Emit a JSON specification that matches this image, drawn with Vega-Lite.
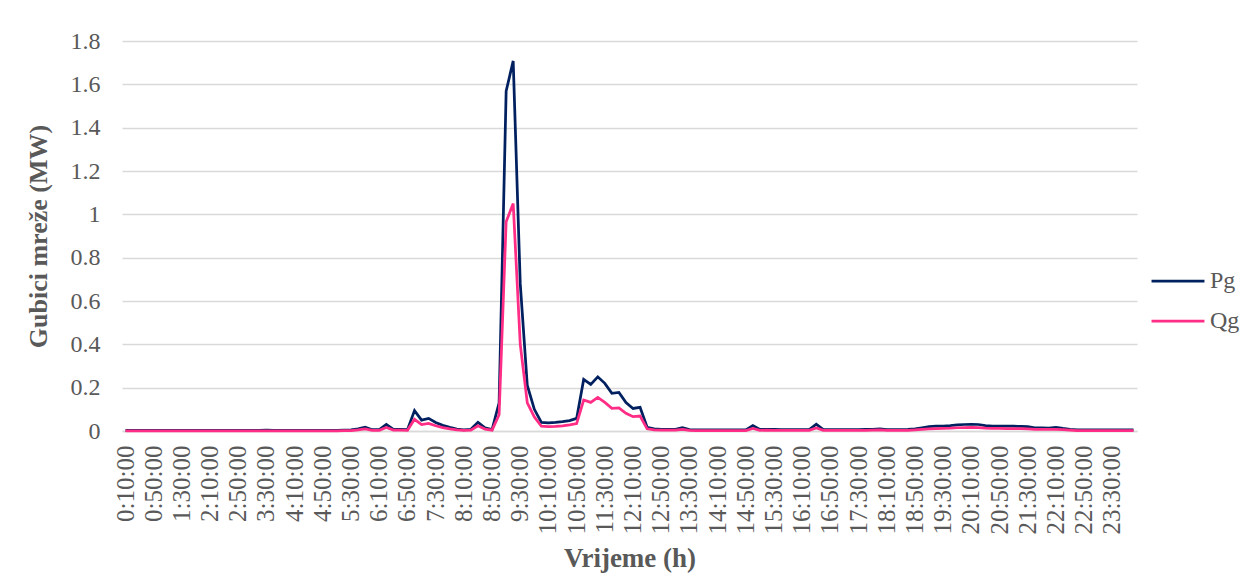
{
  "$schema": "https://vega.github.io/schema/vega-lite/v6.json",
  "width": 1015,
  "height": 390,
  "autosize": "none",
  "padding": {"left": 122, "top": 41, "right": 110, "bottom": 147},
  "background": "white",
  "config": {
    "view": {"stroke": null},
    "font": "Liberation Serif",
    "axis": {"labelFont": "Liberation Serif", "titleFont": "Liberation Serif", "labelColor": "#595959", "titleColor": "#595959"},
    "legend": {"labelFont": "Liberation Serif", "labelColor": "#595959"}
  },
  "data": {
    "values": [
      {"t": "0:10:00", "Pg": 0.003, "Qg": 0.001},
      {"t": "0:20:00", "Pg": 0.003, "Qg": 0.001},
      {"t": "0:30:00", "Pg": 0.003, "Qg": 0.001},
      {"t": "0:40:00", "Pg": 0.003, "Qg": 0.001},
      {"t": "0:50:00", "Pg": 0.003, "Qg": 0.001},
      {"t": "1:00:00", "Pg": 0.003, "Qg": 0.001},
      {"t": "1:10:00", "Pg": 0.003, "Qg": 0.001},
      {"t": "1:20:00", "Pg": 0.003, "Qg": 0.001},
      {"t": "1:30:00", "Pg": 0.003, "Qg": 0.001},
      {"t": "1:40:00", "Pg": 0.003, "Qg": 0.001},
      {"t": "1:50:00", "Pg": 0.003, "Qg": 0.001},
      {"t": "2:00:00", "Pg": 0.003, "Qg": 0.001},
      {"t": "2:10:00", "Pg": 0.003, "Qg": 0.001},
      {"t": "2:20:00", "Pg": 0.003, "Qg": 0.001},
      {"t": "2:30:00", "Pg": 0.003, "Qg": 0.001},
      {"t": "2:40:00", "Pg": 0.003, "Qg": 0.001},
      {"t": "2:50:00", "Pg": 0.003, "Qg": 0.001},
      {"t": "3:00:00", "Pg": 0.003, "Qg": 0.001},
      {"t": "3:10:00", "Pg": 0.003, "Qg": 0.001},
      {"t": "3:20:00", "Pg": 0.003, "Qg": 0.001},
      {"t": "3:30:00", "Pg": 0.004, "Qg": 0.001},
      {"t": "3:40:00", "Pg": 0.003, "Qg": 0.001},
      {"t": "3:50:00", "Pg": 0.003, "Qg": 0.001},
      {"t": "4:00:00", "Pg": 0.003, "Qg": 0.001},
      {"t": "4:10:00", "Pg": 0.003, "Qg": 0.001},
      {"t": "4:20:00", "Pg": 0.003, "Qg": 0.001},
      {"t": "4:30:00", "Pg": 0.003, "Qg": 0.001},
      {"t": "4:40:00", "Pg": 0.003, "Qg": 0.001},
      {"t": "4:50:00", "Pg": 0.003, "Qg": 0.001},
      {"t": "5:00:00", "Pg": 0.003, "Qg": 0.001},
      {"t": "5:10:00", "Pg": 0.003, "Qg": 0.001},
      {"t": "5:20:00", "Pg": 0.004, "Qg": 0.002},
      {"t": "5:30:00", "Pg": 0.005, "Qg": 0.002},
      {"t": "5:40:00", "Pg": 0.01, "Qg": 0.005},
      {"t": "5:50:00", "Pg": 0.018, "Qg": 0.01},
      {"t": "6:00:00", "Pg": 0.006, "Qg": 0.003},
      {"t": "6:10:00", "Pg": 0.006, "Qg": 0.003},
      {"t": "6:20:00", "Pg": 0.03, "Qg": 0.016},
      {"t": "6:30:00", "Pg": 0.007, "Qg": 0.004},
      {"t": "6:40:00", "Pg": 0.007, "Qg": 0.004},
      {"t": "6:50:00", "Pg": 0.006, "Qg": 0.003},
      {"t": "7:00:00", "Pg": 0.094, "Qg": 0.054},
      {"t": "7:10:00", "Pg": 0.05, "Qg": 0.03},
      {"t": "7:20:00", "Pg": 0.058, "Qg": 0.035},
      {"t": "7:30:00", "Pg": 0.039, "Qg": 0.024},
      {"t": "7:40:00", "Pg": 0.026, "Qg": 0.016},
      {"t": "7:50:00", "Pg": 0.017, "Qg": 0.01},
      {"t": "8:00:00", "Pg": 0.009, "Qg": 0.005},
      {"t": "8:10:00", "Pg": 0.005, "Qg": 0.003},
      {"t": "8:20:00", "Pg": 0.008, "Qg": 0.004},
      {"t": "8:30:00", "Pg": 0.04, "Qg": 0.024},
      {"t": "8:40:00", "Pg": 0.015, "Qg": 0.009},
      {"t": "8:50:00", "Pg": 0.007, "Qg": 0.004},
      {"t": "9:00:00", "Pg": 0.13, "Qg": 0.075},
      {"t": "9:10:00", "Pg": 1.569, "Qg": 0.966},
      {"t": "9:20:00", "Pg": 1.708, "Qg": 1.05},
      {"t": "9:30:00", "Pg": 0.68, "Qg": 0.4},
      {"t": "9:40:00", "Pg": 0.21, "Qg": 0.13},
      {"t": "9:50:00", "Pg": 0.1, "Qg": 0.065},
      {"t": "10:00:00", "Pg": 0.04, "Qg": 0.022},
      {"t": "10:10:00", "Pg": 0.038, "Qg": 0.02},
      {"t": "10:20:00", "Pg": 0.04, "Qg": 0.021},
      {"t": "10:30:00", "Pg": 0.043, "Qg": 0.024},
      {"t": "10:40:00", "Pg": 0.048, "Qg": 0.028},
      {"t": "10:50:00", "Pg": 0.058, "Qg": 0.034},
      {"t": "11:00:00", "Pg": 0.238, "Qg": 0.143},
      {"t": "11:10:00", "Pg": 0.215, "Qg": 0.132},
      {"t": "11:20:00", "Pg": 0.25, "Qg": 0.155},
      {"t": "11:30:00", "Pg": 0.22, "Qg": 0.132},
      {"t": "11:40:00", "Pg": 0.174, "Qg": 0.105},
      {"t": "11:50:00", "Pg": 0.178, "Qg": 0.107},
      {"t": "12:00:00", "Pg": 0.131, "Qg": 0.082},
      {"t": "12:10:00", "Pg": 0.104, "Qg": 0.066},
      {"t": "12:20:00", "Pg": 0.109, "Qg": 0.069},
      {"t": "12:30:00", "Pg": 0.017, "Qg": 0.01},
      {"t": "12:40:00", "Pg": 0.01, "Qg": 0.005},
      {"t": "12:50:00", "Pg": 0.008, "Qg": 0.004},
      {"t": "13:00:00", "Pg": 0.008, "Qg": 0.004},
      {"t": "13:10:00", "Pg": 0.008, "Qg": 0.004},
      {"t": "13:20:00", "Pg": 0.015, "Qg": 0.007},
      {"t": "13:30:00", "Pg": 0.006, "Qg": 0.003},
      {"t": "13:40:00", "Pg": 0.005, "Qg": 0.002},
      {"t": "13:50:00", "Pg": 0.005, "Qg": 0.002},
      {"t": "14:00:00", "Pg": 0.005, "Qg": 0.002},
      {"t": "14:10:00", "Pg": 0.005, "Qg": 0.002},
      {"t": "14:20:00", "Pg": 0.005, "Qg": 0.002},
      {"t": "14:30:00", "Pg": 0.005, "Qg": 0.002},
      {"t": "14:40:00", "Pg": 0.005, "Qg": 0.002},
      {"t": "14:50:00", "Pg": 0.005, "Qg": 0.002},
      {"t": "15:00:00", "Pg": 0.025, "Qg": 0.012},
      {"t": "15:10:00", "Pg": 0.007, "Qg": 0.003},
      {"t": "15:20:00", "Pg": 0.008, "Qg": 0.004},
      {"t": "15:30:00", "Pg": 0.007, "Qg": 0.003},
      {"t": "15:40:00", "Pg": 0.006, "Qg": 0.003},
      {"t": "15:50:00", "Pg": 0.006, "Qg": 0.003},
      {"t": "16:00:00", "Pg": 0.006, "Qg": 0.003},
      {"t": "16:10:00", "Pg": 0.006, "Qg": 0.003},
      {"t": "16:20:00", "Pg": 0.006, "Qg": 0.003},
      {"t": "16:30:00", "Pg": 0.031, "Qg": 0.014},
      {"t": "16:40:00", "Pg": 0.006, "Qg": 0.003},
      {"t": "16:50:00", "Pg": 0.006, "Qg": 0.003},
      {"t": "17:00:00", "Pg": 0.006, "Qg": 0.003},
      {"t": "17:10:00", "Pg": 0.006, "Qg": 0.003},
      {"t": "17:20:00", "Pg": 0.006, "Qg": 0.003},
      {"t": "17:30:00", "Pg": 0.006, "Qg": 0.003},
      {"t": "17:40:00", "Pg": 0.007, "Qg": 0.003},
      {"t": "17:50:00", "Pg": 0.008, "Qg": 0.004},
      {"t": "18:00:00", "Pg": 0.01, "Qg": 0.005},
      {"t": "18:10:00", "Pg": 0.006, "Qg": 0.003},
      {"t": "18:20:00", "Pg": 0.006, "Qg": 0.003},
      {"t": "18:30:00", "Pg": 0.006, "Qg": 0.003},
      {"t": "18:40:00", "Pg": 0.007, "Qg": 0.003},
      {"t": "18:50:00", "Pg": 0.01, "Qg": 0.005},
      {"t": "19:00:00", "Pg": 0.015, "Qg": 0.008},
      {"t": "19:10:00", "Pg": 0.02, "Qg": 0.01},
      {"t": "19:20:00", "Pg": 0.022, "Qg": 0.011},
      {"t": "19:30:00", "Pg": 0.023, "Qg": 0.012},
      {"t": "19:40:00", "Pg": 0.025, "Qg": 0.013},
      {"t": "19:50:00", "Pg": 0.028, "Qg": 0.015},
      {"t": "20:00:00", "Pg": 0.03, "Qg": 0.016},
      {"t": "20:10:00", "Pg": 0.031, "Qg": 0.017},
      {"t": "20:20:00", "Pg": 0.03, "Qg": 0.016},
      {"t": "20:30:00", "Pg": 0.025, "Qg": 0.013},
      {"t": "20:40:00", "Pg": 0.023, "Qg": 0.012},
      {"t": "20:50:00", "Pg": 0.023, "Qg": 0.012},
      {"t": "21:00:00", "Pg": 0.022, "Qg": 0.011},
      {"t": "21:10:00", "Pg": 0.022, "Qg": 0.011},
      {"t": "21:20:00", "Pg": 0.021, "Qg": 0.011},
      {"t": "21:30:00", "Pg": 0.02, "Qg": 0.01},
      {"t": "21:40:00", "Pg": 0.015, "Qg": 0.008},
      {"t": "21:50:00", "Pg": 0.014, "Qg": 0.007},
      {"t": "22:00:00", "Pg": 0.013, "Qg": 0.007},
      {"t": "22:10:00", "Pg": 0.017, "Qg": 0.008},
      {"t": "22:20:00", "Pg": 0.012, "Qg": 0.006},
      {"t": "22:30:00", "Pg": 0.008, "Qg": 0.004},
      {"t": "22:40:00", "Pg": 0.005, "Qg": 0.002},
      {"t": "22:50:00", "Pg": 0.005, "Qg": 0.002},
      {"t": "23:00:00", "Pg": 0.005, "Qg": 0.002},
      {"t": "23:10:00", "Pg": 0.005, "Qg": 0.002},
      {"t": "23:20:00", "Pg": 0.005, "Qg": 0.002},
      {"t": "23:30:00", "Pg": 0.005, "Qg": 0.002},
      {"t": "23:40:00", "Pg": 0.005, "Qg": 0.002},
      {"t": "23:50:00", "Pg": 0.005, "Qg": 0.002},
      {"t": "0:00:00", "Pg": 0.005, "Qg": 0.002}
    ]
  },
  "transform": [{"fold": ["Pg", "Qg"], "as": ["serija", "vrijednost"]}],
  "mark": {"type": "line", "strokeWidth": 2.75, "interpolate": "linear"},
  "encoding": {
    "x": {
      "field": "t",
      "type": "ordinal",
      "sort": null,
      "scale": {"type": "band", "paddingInner": 0, "paddingOuter": 0},
      "axis": {
        "title": "Vrijeme (h)",
        "titleFont": "Liberation Serif",
        "titleFontSize": 27,
        "titleFontWeight": "bold",
        "titlePadding": 12,
        "labelFont": "Liberation Serif",
        "labelFontSize": 25,
        "labelAngle": 270,
        "labelPadding": 14,
        "ticks": false,
        "domainColor": "#d9d9d9",
        "domainWidth": 1.5,
        "grid": false,
        "values": ["0:10:00", "0:50:00", "1:30:00", "2:10:00", "2:50:00", "3:30:00", "4:10:00", "4:50:00", "5:30:00", "6:10:00", "6:50:00", "7:30:00", "8:10:00", "8:50:00", "9:30:00", "10:10:00", "10:50:00", "11:30:00", "12:10:00", "12:50:00", "13:30:00", "14:10:00", "14:50:00", "15:30:00", "16:10:00", "16:50:00", "17:30:00", "18:10:00", "18:50:00", "19:30:00", "20:10:00", "20:50:00", "21:30:00", "22:10:00", "22:50:00", "23:30:00"]
      }
    },
    "y": {
      "field": "vrijednost",
      "type": "quantitative",
      "scale": {"domain": [0, 1.8], "nice": false},
      "axis": {
        "title": "Gubici mreže (MW)",
        "titleFont": "Liberation Serif",
        "titleFontSize": 26,
        "titleFontWeight": "bold",
        "titleX": -71,
        "labelFont": "Liberation Serif",
        "labelFontSize": 24,
        "labelPadding": 22,
        "ticks": false,
        "domain": false,
        "grid": true,
        "gridColor": "#d9d9d9",
        "gridWidth": 1.5,
        "values": [0, 0.2, 0.4, 0.6, 0.8, 1, 1.2, 1.4, 1.6, 1.8],
        "format": "~g"
      }
    },
    "color": {
      "field": "serija",
      "type": "nominal",
      "scale": {"domain": ["Pg", "Qg"], "range": ["#002060", "#ff2d85"]},
      "legend": {
        "title": null,
        "orient": "none",
        "legendX": 1028,
        "legendY": 212,
        "symbolType": "stroke",
        "symbolSize": 2800,
        "symbolStrokeWidth": 2.75,
        "labelFont": "Liberation Serif",
        "labelFontSize": 24,
        "labelOffset": 4,
        "rowPadding": 0
      }
    }
  }
}
